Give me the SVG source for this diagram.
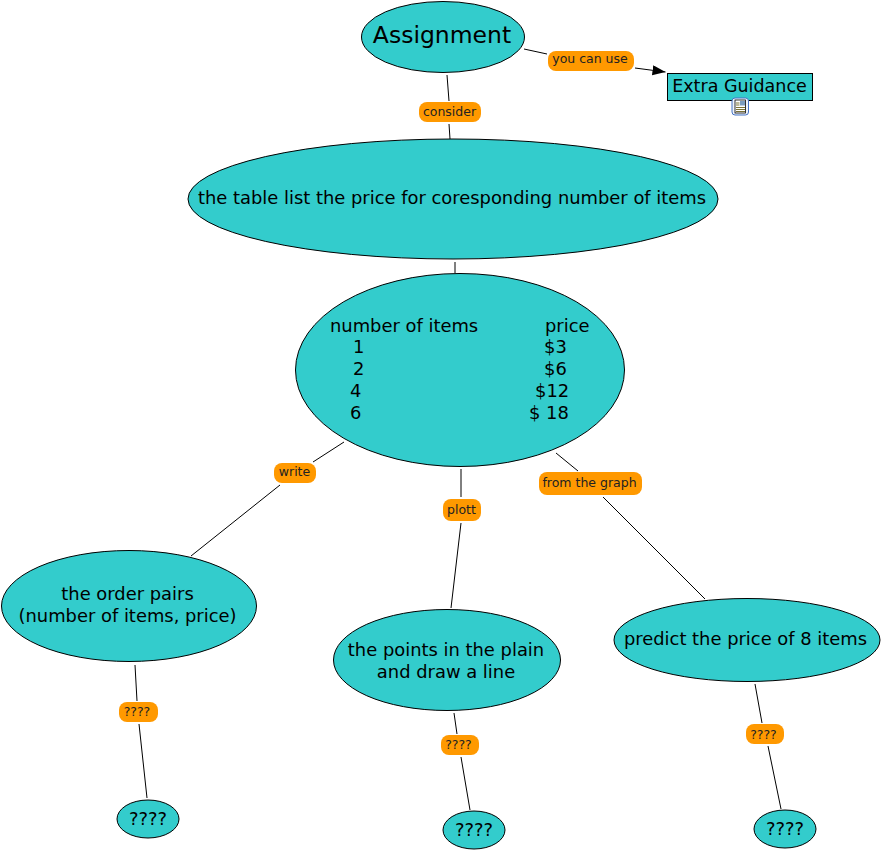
<svg xmlns="http://www.w3.org/2000/svg" width="881" height="850" viewBox="0 0 881 850">
<style>
.n{fill:#33cccc;stroke:#000;stroke-width:1}
.t{font-family:"DejaVu Sans",Verdana,sans-serif;font-size:17.900px;fill:#000;text-anchor:middle}
.s{text-anchor:start}
.l{fill:#ff9900;stroke:none}
.lt{font-family:"DejaVu Sans",Verdana,sans-serif;font-size:12.500px;fill:#222;text-anchor:middle}
#connectors line{stroke:#000;stroke-width:1}
</style>
<defs><marker id="arrow" markerWidth="14" markerHeight="11" refX="13" refY="5" orient="auto" markerUnits="userSpaceOnUse"><path d="M0 0L13 5L0 10Z" fill="#000"/></marker></defs>
<rect width="881" height="850" fill="#fff"/>
<g id="connectors">
<line x1="447" y1="75" x2="449" y2="101"/>
<line x1="449" y1="124" x2="450" y2="139"/>
<line x1="524" y1="49" x2="547" y2="54"/>
<line x1="635" y1="68" x2="665.500" y2="72" marker-end="url(#arrow)"/>
<line x1="455" y1="262" x2="455" y2="273"/>
<line x1="344" y1="442" x2="313" y2="462"/>
<line x1="280" y1="485" x2="191" y2="556"/>
<line x1="461" y1="469" x2="461" y2="497"/>
<line x1="461" y1="523" x2="451" y2="608"/>
<line x1="556" y1="453" x2="578" y2="471"/>
<line x1="603" y1="497" x2="705" y2="599"/>
<line x1="135" y1="665" x2="137" y2="701"/>
<line x1="139" y1="724" x2="147" y2="798"/>
<line x1="454" y1="713" x2="457" y2="734"/>
<line x1="461" y1="757" x2="470" y2="810"/>
<line x1="755" y1="684" x2="762" y2="723"/>
<line x1="768" y1="746" x2="781" y2="809"/>
</g>
<g id="node-assignment"><ellipse class="n" cx="443" cy="37" rx="81.500" ry="35.500"/><text class="t" x="442" y="43" style="font-size:23.500px">Assignment</text></g>
<g id="node-extra"><rect class="n" x="667.500" y="73.500" width="145" height="27"/><text class="t" x="739.500" y="92" style="font-size:17.500px">Extra Guidance</text>
<g id="doc-icon"><rect x="732" y="98" width="16.500" height="17" rx="3" fill="#eef3fb" stroke="#4472c4"/><rect x="735" y="100" width="10.500" height="13" fill="#fff" stroke="#000" stroke-width="0.800"/><rect x="740" y="101" width="5" height="4.500" fill="#7a9cc0"/><path d="M736 103h3.500M736 105h3.500M736 107.500h9M736 109.500h9M736 111.500h9" stroke="#6b6320" fill="none" stroke-width="0.900"/></g></g>
<g id="node-table-list"><ellipse class="n" cx="453" cy="199" rx="265" ry="60"/><text class="t" x="452" y="204">the table list the price for coresponding number of items</text></g>
<g id="node-table"><ellipse class="n" cx="460" cy="370" rx="164.500" ry="96.500"/>
<text class="t s" x="330" y="332">number of items</text><text class="t s" x="545" y="332">price</text>
<text class="t s" x="353" y="353">1</text><text class="t s" x="544" y="353">$3</text>
<text class="t s" x="353" y="375">2</text><text class="t s" x="544" y="375">$6</text>
<text class="t s" x="350" y="397">4</text><text class="t s" x="535" y="397">$12</text>
<text class="t s" x="350" y="419">6</text><text class="t s" x="529" y="419">$ 18</text></g>
<g id="node-pairs"><ellipse class="n" cx="129" cy="606" rx="127.500" ry="55.500"/><text class="t" x="127.500" y="600">the order pairs</text><text class="t" x="127.500" y="622">(number of items, price)</text></g>
<g id="node-points"><ellipse class="n" cx="447" cy="660" rx="113.500" ry="50.500"/><text class="t" x="446" y="656">the points in the plain</text><text class="t" x="446" y="678">and draw a line</text></g>
<g id="node-predict"><ellipse class="n" cx="747" cy="640" rx="133" ry="41.500"/><text class="t" x="745.500" y="645">predict the price of 8 items</text></g>
<g id="node-q1"><ellipse class="n" cx="148" cy="819" rx="31" ry="19"/><text class="t" x="148" y="825">????</text></g>
<g id="node-q2"><ellipse class="n" cx="474" cy="830" rx="31" ry="19"/><text class="t" x="474" y="836">????</text></g>
<g id="node-q3"><ellipse class="n" cx="785" cy="829" rx="31" ry="19"/><text class="t" x="785" y="835">????</text></g>
<g id="label-consider"><rect class="l" x="419" y="102" width="62" height="20" rx="8"/><text class="lt" x="449.500" y="116">consider</text></g>
<g id="label-youcanuse"><rect class="l" x="548" y="51" width="86" height="20" rx="8"/><text class="lt" x="590" y="63">you can use</text></g>
<g id="label-write"><rect class="l" x="274" y="463" width="42" height="20" rx="8"/><text class="lt" x="294.500" y="476">write</text></g>
<g id="label-plott"><rect class="l" x="443" y="499" width="38" height="22" rx="8"/><text class="lt" x="461.500" y="514">plott</text></g>
<g id="label-fromgraph"><rect class="l" x="539" y="472" width="103" height="23" rx="8"/><text class="lt" x="589.500" y="487">from the graph</text></g>
<g id="label-q1"><rect class="l" x="119" y="702" width="39" height="20" rx="8"/><text class="lt" x="137" y="716">????</text></g>
<g id="label-q2"><rect class="l" x="441" y="735" width="38" height="20" rx="8"/><text class="lt" x="458.500" y="749">????</text></g>
<g id="label-q3"><rect class="l" x="746" y="724" width="38" height="20" rx="8"/><text class="lt" x="763.500" y="739">????</text></g>
</svg>
